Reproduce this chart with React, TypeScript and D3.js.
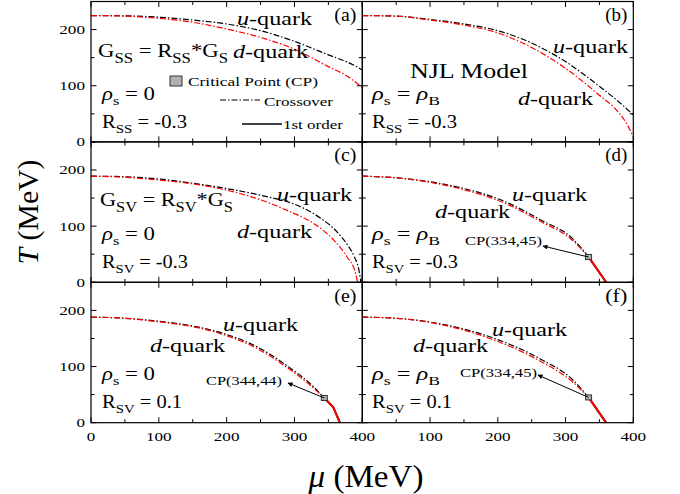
import React from 'react';
import * as d3 from 'd3';

type Pt = [number, number];

// ---- axis ticks ----
const xTicks = [0, 50, 100, 150, 200, 250, 300, 350, 400];
const xTickLabelsLeft = [0, 100, 200, 300, 400];
const xTickLabelsRight = [100, 200, 300, 400];
const yTicks = [0, 50, 100, 150, 200, 250];
const yTickLabels = [0, 100, 200];

// ---- (a) rho_s = 0, R_SS = -0.3 ----
const aU: Pt[] = [[0, 225], [50, 224.5], [100, 222], [150, 217], [200, 210], [250, 198], [300, 179], [350, 155], [387, 137], [400, 128]];
const aD: Pt[] = [[0, 225], [50, 224], [100, 220], [150, 213], [200, 201], [250, 186], [300, 165], [350, 134], [375, 119], [400, 97]];
// ---- (b) rho_s = rho_B, R_SS = -0.3 ----
const bU: Pt[] = [[0, 225], [50, 224], [100, 218], [150, 210], [200, 198], [250, 176], [300, 143], [350, 99], [375, 75], [400, 48]];
const bD: Pt[] = [[0, 225], [50, 224], [100, 217], [150, 208], [200, 194], [250, 168], [300, 131], [350, 83], [375, 57], [390, 33], [400, 9]];
// ---- (c) rho_s = 0, R_SV = -0.3 ----
const cU: Pt[] = [[0, 189], [50, 188], [100, 184], [146, 177], [200, 167], [250, 155], [300, 139], [320, 128], [340, 113], [355, 99], [367, 84], [378, 67], [388, 46], [395, 22], [398, 0]];
const cD: Pt[] = [[0, 189], [50, 187], [100, 182], [146, 176], [200, 164], [245, 149], [289, 128], [328, 105], [358, 75], [377, 46], [390, 16], [393, 0]];
// ---- (d) rho_s = rho_B, R_SV = -0.3 ----
const dU: Pt[] = [[0, 189], [50, 186], [100, 179], [150, 167], [208, 145], [262, 112], [311, 77], [334, 45]];
const dD: Pt[] = [[0, 189], [50, 186], [100, 178], [150, 165], [208, 142], [262, 109], [311, 74], [334, 45]];
const dFirst: Pt[] = [[334, 45], [360, 0]];
const dCP: Pt = [334, 45];
// ---- (e) rho_s = 0, R_SV = 0.1 ----
const eU: Pt[] = [[0, 188], [50, 186], [97, 181], [146, 173], [195, 159], [245, 135], [294, 97], [320, 73], [344, 44]];
const eD: Pt[] = [[0, 188], [50, 186], [97, 180], [146, 172], [195, 157], [245, 132], [294, 94], [320, 70], [344, 44]];
const eFirst: Pt[] = [[344, 44], [357, 28], [367, 0]];
const eCP: Pt = [344, 44];
// ---- (f) rho_s = rho_B, R_SV = 0.1 ----
const fU: Pt[] = [[0, 188], [50, 186], [115, 176], [188, 153], [262, 114], [311, 76], [334, 45]];
const fD: Pt[] = [[0, 188], [50, 186], [115, 175], [188, 150], [262, 110], [311, 72], [334, 45]];
const fFirst: Pt[] = [[334, 45], [360, 0]];
const fCP: Pt = [334, 45];

const FONT = '"Liberation Serif", "Times New Roman", Times, serif';

const colX = [91, 362.3, 633.3];
const rowTop = [1.5, 141.9, 282.3];
const panelH = 140.4;

const xScales = [0, 1].map((c) => d3.scaleLinear().domain([0, 400]).range([colX[c], colX[c + 1]]));
const yScales = [0, 1, 2].map((r) => d3.scaleLinear().domain([0, 250]).range([rowTop[r] + panelH, rowTop[r]]));

const DASH = '6,2,1.5,2';

function Txt(props: { x: number; y: number; size: number; w?: number; anchor?: string; children: any }) {
  const { x, y, size, w, anchor = 'start', children } = props;
  return (
    <text
      x={x}
      y={y}
      fontSize={size}
      textAnchor={anchor}
      fontFamily={FONT}
      fill="#000"
      textLength={w}
      lengthAdjust={w ? 'spacingAndGlyphs' : undefined}
    >
      {children}
    </text>
  );
}

function Quark(props: { x: number; y: number; q: string }) {
  return (
    <Txt x={props.x} y={props.y} size={18} w={75}>
      <tspan fontStyle="italic">{props.q}</tspan>-quark
    </Txt>
  );
}

function RhoLine(props: { x: number; y: number; eqB: boolean }) {
  return (
    <Txt x={props.x} y={props.y} size={18} w={props.eqB ? 68 : 53}>
      <tspan fontStyle="italic">ρ</tspan>
      <tspan fontSize={13} dy={5}>s</tspan>
      <tspan dy={-5}>{' = '}</tspan>
      {props.eqB ? (
        <>
          <tspan fontStyle="italic">ρ</tspan>
          <tspan fontSize={13} dy={5}>B</tspan>
        </>
      ) : (
        <tspan>0</tspan>
      )}
    </Txt>
  );
}

function RLine(props: { x: number; y: number; sub: string; val: string; w: number }) {
  return (
    <Txt x={props.x} y={props.y} size={18} w={props.w}>
      R<tspan fontSize={13} dy={5}>{props.sub}</tspan>
      <tspan dy={-5}>{' = ' + props.val}</tspan>
    </Txt>
  );
}

function GLine(props: { x: number; y: number; sub: string; w: number }) {
  return (
    <Txt x={props.x} y={props.y} size={19} w={props.w}>
      G<tspan fontSize={14} dy={6}>{props.sub}</tspan>
      <tspan dy={-6}>{' = R'}</tspan>
      <tspan fontSize={14} dy={6}>{props.sub}</tspan>
      <tspan dy={-6}>*G</tspan>
      <tspan fontSize={14} dy={6}>S</tspan>
    </Txt>
  );
}

type Panel = {
  id: string;
  col: number;
  row: number;
  u: Pt[];
  d: Pt[];
  first?: Pt[];
  cp?: Pt;
};

const panels: Panel[] = [
  { id: 'a', col: 0, row: 0, u: aU, d: aD },
  { id: 'b', col: 1, row: 0, u: bU, d: bD },
  { id: 'c', col: 0, row: 1, u: cU, d: cD },
  { id: 'd', col: 1, row: 1, u: dU, d: dD, first: dFirst, cp: dCP },
  { id: 'e', col: 0, row: 2, u: eU, d: eD, first: eFirst, cp: eCP },
  { id: 'f', col: 1, row: 2, u: fU, d: fD, first: fFirst, cp: fCP },
];

function PanelView({ p }: { p: Panel }) {
  const x = xScales[p.col];
  const y = yScales[p.row];
  const line = d3
    .line<Pt>()
    .x((d) => x(d[0]))
    .y((d) => y(d[1]))
    .curve(d3.curveMonotoneX);
  const straight = d3
    .line<Pt>()
    .x((d) => x(d[0]))
    .y((d) => y(d[1]));
  const x0 = x.range()[0];
  const x1 = x.range()[1];
  const y0 = y.range()[0];
  const y1 = y.range()[1];
  const ticks: JSX.Element[] = [];
  xTicks.forEach((t, i) => {
    const L = t % 100 === 0 ? 5.5 : 3.5;
    const px = x(t);
    ticks.push(<line key={'xb' + i} x1={px} x2={px} y1={y0} y2={y0 - L} stroke="#000" strokeWidth={1} />);
    ticks.push(<line key={'xt' + i} x1={px} x2={px} y1={y1} y2={y1 + L} stroke="#000" strokeWidth={1} />);
  });
  yTicks.forEach((t, i) => {
    const L = t % 100 === 0 ? 5.5 : 3.5;
    const py = y(t);
    ticks.push(<line key={'yl' + i} x1={x0} x2={x0 + L} y1={py} y2={py} stroke="#000" strokeWidth={1} />);
    ticks.push(<line key={'yr' + i} x1={x1} x2={x1 - L} y1={py} y2={py} stroke="#000" strokeWidth={1} />);
  });
  return (
    <g>
      <g clipPath={`url(#clip-${p.id})`}>
        <path d={line(p.u) || ''} fill="none" stroke="#000" strokeWidth={1.2} strokeDasharray={DASH} />
        <path d={line(p.d) || ''} fill="none" stroke="#ff0000" strokeWidth={1.2} strokeDasharray={DASH} />
        {p.first && <path d={straight(p.first) || ''} fill="none" stroke="#000" strokeWidth={2} />}
        {p.first && <path d={straight(p.first) || ''} fill="none" stroke="#ff0000" strokeWidth={2} />}
      </g>
      {p.cp && (
        <rect x={x(p.cp[0]) - 3} y={y(p.cp[1]) - 2.5} width={6} height={5} fill="#b0b0b0" stroke="#333" strokeWidth={1} />
      )}
      <rect x={x0} y={y1} width={x1 - x0} height={y0 - y1} fill="none" stroke="#000" strokeWidth={1.2} />
      {ticks}
      {p.col === 0 &&
        yTickLabels.map((t) => (
          <Txt key={'yl' + t} x={85} y={y(t) + 4.5} size={13.5} anchor="end" w={t === 0 ? 8.5 : 25.7}>
            {t}
          </Txt>
        ))}
      {p.row === 2 &&
        (p.col === 0 ? xTickLabelsLeft : xTickLabelsRight).map((t) => (
          <Txt key={'xl' + t} x={x(t)} y={441} size={13.5} anchor="middle" w={t === 0 ? 8.5 : 25.7}>
            {t}
          </Txt>
        ))}
      <Txt x={x1 - 6} y={y1 + 19.5} size={18} anchor="end" w={22}>
        ({p.id})
      </Txt>
    </g>
  );
}

function Arrow(props: { from: [number, number]; to: [number, number] }) {
  return (
    <line x1={props.from[0]} y1={props.from[1]} x2={props.to[0]} y2={props.to[1]} stroke="#000" strokeWidth={1} markerEnd="url(#arrowhead)" />
  );
}

export default function App() {
  const cpPix = (p: Panel): [number, number] => [xScales[p.col](p.cp![0]), yScales[p.row](p.cp![1])];
  return (
    <svg width={680} height={494} style={{ position: 'absolute', left: 0, top: 0, background: '#fff' }} fontFamily={FONT}>
      <defs>
        {panels.map((p) => (
          <clipPath id={`clip-${p.id}`} key={p.id}>
            <rect x={colX[p.col]} y={rowTop[p.row]} width={colX[p.col + 1] - colX[p.col]} height={panelH} />
          </clipPath>
        ))}
        <marker id="arrowhead" viewBox="0 0 10 10" refX={9} refY={5} markerWidth={7} markerHeight={5} orient="auto" markerUnits="userSpaceOnUse">
          <path d="M0,0 L10,5 L0,10 z" fill="#000" />
        </marker>
      </defs>
      <rect x={0} y={0} width={680} height={494} fill="#fff" />
      {panels.map((p) => (
        <PanelView key={p.id} p={p} />
      ))}

      {/* (a) */}
      <Quark x={237} y={25} q="u" />
      <GLine x={98} y={57} sub="SS" w={130} />
      <Quark x={233} y={58} q="d" />
      <rect x={170} y={76} width={12} height={10} fill="#b0b0b0" stroke="#333" strokeWidth={1} />
      <Txt x={188} y={86} size={13} w={130}>Critical Point (CP)</Txt>
      <line x1={220} x2={260} y1={100} y2={100} stroke="#000" strokeWidth={1.2} strokeDasharray={DASH} />
      <Txt x={264} y={106} size={13} w={69}>Crossover</Txt>
      <line x1={242} x2={282} y1={124} y2={124} stroke="#000" strokeWidth={1.5} />
      <Txt x={283} y={129} size={13} w={60}>1st order</Txt>
      <RhoLine x={102} y={100} eqB={false} />
      <RLine x={102} y={128} sub="SS" val="-0.3" w={85} />

      {/* (b) */}
      <Quark x={553} y={53} q="u" />
      <Txt x={410} y={78} size={20} w={118}>NJL Model</Txt>
      <Quark x={518} y={105} q="d" />
      <RhoLine x={372} y={100} eqB={true} />
      <RLine x={372} y={128} sub="SS" val="-0.3" w={85} />

      {/* (c) */}
      <Quark x={277} y={201} q="u" />
      <GLine x={100} y={206} sub="SV" w={133} />
      <Quark x={237} y={238} q="d" />
      <RhoLine x={102} y={240} eqB={false} />
      <RLine x={102} y={268} sub="SV" val="-0.3" w={86} />

      {/* (d) */}
      <Quark x={512} y={201} q="u" />
      <Quark x={435} y={218} q="d" />
      <RhoLine x={372} y={240} eqB={true} />
      <RLine x={372} y={268} sub="SV" val="-0.3" w={86} />
      <Txt x={465} y={245} size={12.5} w={77}>CP(334,45)</Txt>
      <Arrow from={cpPix(panels[3])} to={[543, 246]} />

      {/* (e) */}
      <Quark x={223} y={331} q="u" />
      <Quark x={150} y={352} q="d" />
      <RhoLine x={102} y={380} eqB={false} />
      <RLine x={102} y={408} sub="SV" val="0.1" w={80} />
      <Txt x={206} y={385} size={12.5} w={76}>CP(344,44)</Txt>
      <Arrow from={cpPix(panels[4])} to={[288, 383]} />

      {/* (f) */}
      <Quark x={492} y={336} q="u" />
      <Quark x={413} y={352} q="d" />
      <RhoLine x={372} y={380} eqB={true} />
      <RLine x={372} y={408} sub="SV" val="0.1" w={80} />
      <Txt x={460} y={377} size={12.5} w={77}>CP(334,45)</Txt>
      <Arrow from={cpPix(panels[5])} to={[538, 375]} />

      {/* axis titles */}
      <text
        transform="translate(38,212) rotate(-90)"
        fontSize={30}
        textAnchor="middle"
        fontFamily={FONT}
        textLength={105}
        lengthAdjust="spacingAndGlyphs"
      >
        <tspan fontStyle="italic">T</tspan> (MeV)
      </text>
      <text x={366} y={487} fontSize={31} textAnchor="middle" fontFamily={FONT} textLength={115} lengthAdjust="spacingAndGlyphs">
        <tspan fontStyle="italic">μ</tspan> (MeV)
      </text>
    </svg>
  );
}
